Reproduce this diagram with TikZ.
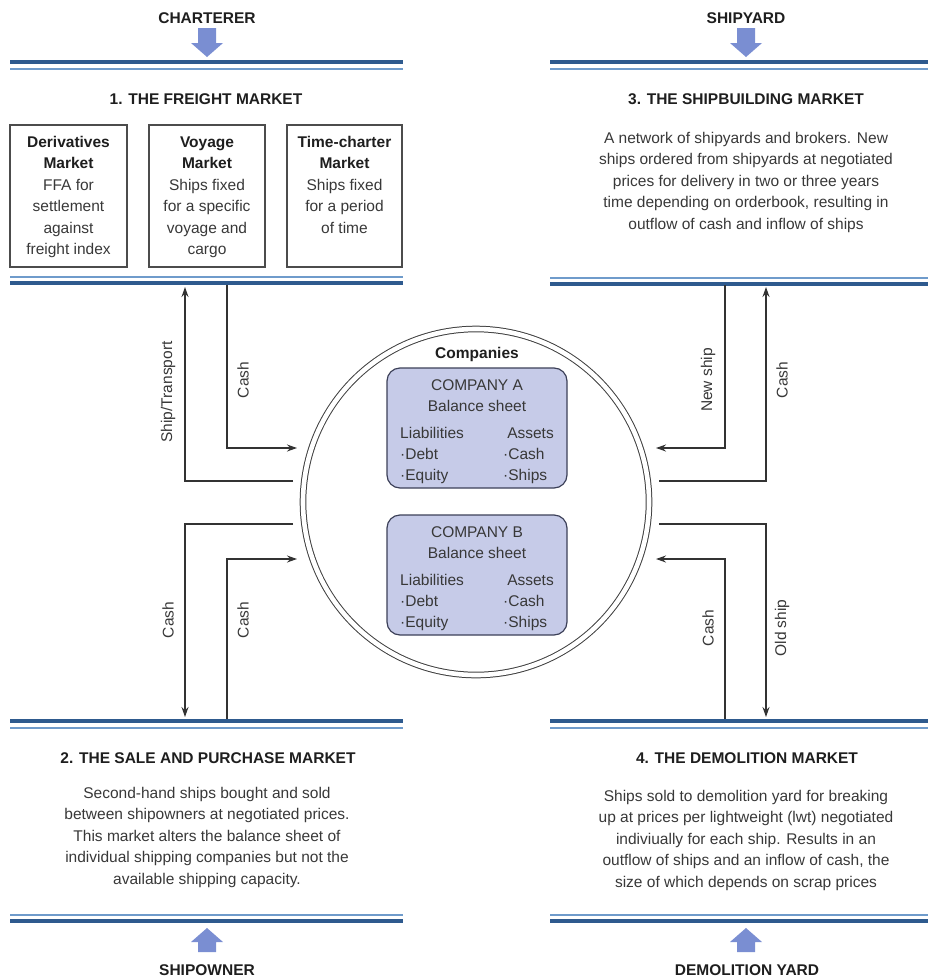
\documentclass[tikz,border=0pt]{standalone}
\usepackage{fontspec}
\setmainfont{Liberation Sans}
\usetikzlibrary{arrows.meta}
\definecolor{bdark}{HTML}{2E5A8E}
\definecolor{blight}{HTML}{6F9BCB}
\definecolor{arrowblue}{HTML}{7A8ED2}
\definecolor{cofill}{HTML}{C6CBE8}
\definecolor{coedge}{HTML}{3C4058}
\definecolor{txt}{HTML}{383838}
\definecolor{ttlc}{HTML}{1E1E1E}
\begin{document}
\begin{tikzpicture}[x=1pt,y=-1pt,
  body/.style={font=\fontsize{15.5}{21.5}\selectfont, text=txt, align=center, inner sep=0pt, anchor=north},
  ttl/.style={font=\fontsize{15.5}{18}\selectfont\bfseries, text=ttlc, inner sep=0pt, anchor=base},
  lbl/.style={font=\fontsize{15.5}{18}\selectfont, text=txt, inner sep=0pt, rotate=90},
  cot/.style={font=\fontsize{15.5}{18}\selectfont, text=txt, inner sep=0pt, anchor=base},
  dkline/.style={draw=bdark, line width=4pt},
  ltline/.style={draw=blight, line width=2pt},
  fbox/.style={draw=black!70, line width=1.2pt, rectangle, inner sep=0pt, minimum height=142pt},
  cobox/.style={draw=coedge, fill=cofill, line width=1.2pt, rounded corners=13pt, rectangle, inner sep=0pt, minimum width=180pt, minimum height=120pt},
  flow/.style={draw=black!80, line width=1.3pt, -{Stealth[length=10pt,width=7pt]}},
  barrow/.style={fill=arrowblue}
]
\useasboundingbox (0,0) rectangle (928,977);

% ---------- panel rules ----------
\draw[dkline] (10,62) -- (403,62);   \draw[ltline] (10,68.5) -- (403,68.5);
\draw[ltline] (10,277) -- (403,277); \draw[dkline] (10,283) -- (403,283);
\draw[dkline] (550,62) -- (928,62);   \draw[ltline] (550,68.5) -- (928,68.5);
\draw[ltline] (550,277.5) -- (928,277.5); \draw[dkline] (550,283.5) -- (928,283.5);
\draw[dkline] (10,721) -- (403,721);   \draw[ltline] (10,727.5) -- (403,727.5);
\draw[ltline] (10,914.5) -- (403,914.5); \draw[dkline] (10,921) -- (403,921);
\draw[dkline] (550,721) -- (928,721);   \draw[ltline] (550,727.5) -- (928,727.5);
\draw[ltline] (550,914.5) -- (928,914.5); \draw[dkline] (550,921) -- (928,921);

% ---------- block arrows ----------
\fill[barrow,shift={(207,0)}] (-9,28) -- (9,28) -- (9,43) -- (16,43) -- (0,57) -- (-16,43) -- (-9,43) -- cycle;
\fill[barrow,shift={(746,0)}] (-9,28) -- (9,28) -- (9,43) -- (16,43) -- (0,57) -- (-16,43) -- (-9,43) -- cycle;
\fill[barrow,shift={(207,0)}] (-9,952) -- (9,952) -- (9,942) -- (16,942) -- (0,928) -- (-16,942) -- (-9,942) -- cycle;
\fill[barrow,shift={(746,0)}] (-9,952) -- (9,952) -- (9,942) -- (16,942) -- (0,928) -- (-16,942) -- (-9,942) -- cycle;

% ---------- outer labels ----------
\node[ttl] (charterer) at (207,23.5) {CHARTERER};
\node[ttl] (shipyard) at (746,23.5) {SHIPYARD};
\node[ttl] (shipowner) at (207,975.5) {SHIPOWNER};
\node[ttl] (demyard) at (747,975.5) {DEMOLITION YARD};

% ---------- titles ----------
\node[ttl] (t1) at (206,104) {1. THE FREIGHT MARKET};
\node[ttl] (t3) at (746,104.5) {3. THE SHIPBUILDING MARKET};
\node[ttl] (t2) at (208,763.5) {2. THE SALE AND PURCHASE MARKET};
\node[ttl] (t4) at (747,763.5) {4. THE DEMOLITION MARKET};

% ---------- freight market boxes ----------
\node[fbox, minimum width=117pt] (fb1) at (68.5,196) {};
\node[fbox, minimum width=116pt] (fb2) at (207,196) {};
\node[fbox, minimum width=115pt] (fb3) at (344.5,196) {};
\node[body] (fb1t) at (68.5,132) {\strut\textbf{\color{ttlc}Derivatives}\\\textbf{\color{ttlc}Market}\\FFA for\\settlement\\against\\freight index};
\node[body] (fb2t) at (207,132) {\strut\textbf{\color{ttlc}Voyage}\\\textbf{\color{ttlc}Market}\\Ships fixed\\for a specific\\voyage and\\cargo};
\node[body] (fb3t) at (344.5,132) {\strut\textbf{\color{ttlc}Time-charter}\\\textbf{\color{ttlc}Market}\\Ships fixed\\for a period\\of time};

% ---------- panel texts ----------
\node[body] (sbt) at (746,128) {\strut A network of shipyards and brokers. New\\ships ordered from shipyards at negotiated\\prices for delivery in two or three years\\time depending on orderbook, resulting in\\outflow of cash and inflow of ships};
\node[body] (spt) at (207,783) {\strut Second-hand ships bought and sold\\between shipowners at negotiated prices.\\This market alters the balance sheet of\\individual shipping companies but not the\\available shipping capacity.};
\node[body] (dmt) at (746,786) {\strut Ships sold to demolition yard for breaking\\up at prices per lightweight (lwt) negotiated\\indiviually for each ship. Results in an\\outflow of ships and an inflow of cash, the\\size of which depends on scrap prices};

% ---------- companies ----------
\node[draw=black!75, double, double distance=4.6pt, line width=1pt, circle, minimum size=346pt, inner sep=0pt] (comp) at (476,502) {};
\node[ttl] (comptitle) at (477,358.5) {Companies};

\node[cobox] (coA) at (477,428) {};
\node[cot] (coA1) at (477,390.5) {COMPANY A};
\node[cot] (coA2) at (477,411) {Balance sheet};
\node[cot, anchor=base west] (coA3) at (400,438) {Liabilities};
\node[cot, anchor=base west] (coA4) at (400,459) {·Debt};
\node[cot, anchor=base west] (coA5) at (400,480) {·Equity};
\node[cot, anchor=base east] (coA6) at (554,438) {Assets};
\node[cot, anchor=base west] (coA7) at (503,459) {·Cash};
\node[cot, anchor=base west] (coA8) at (503,480) {·Ships};

\node[cobox] (coB) at (477,575) {};
\node[cot] (coB1) at (477,537.5) {COMPANY B};
\node[cot] (coB2) at (477,558) {Balance sheet};
\node[cot, anchor=base west] (coB3) at (400,585) {Liabilities};
\node[cot, anchor=base west] (coB4) at (400,606) {·Debt};
\node[cot, anchor=base west] (coB5) at (400,627) {·Equity};
\node[cot, anchor=base east] (coB6) at (554,585) {Assets};
\node[cot, anchor=base west] (coB7) at (503,606) {·Cash};
\node[cot, anchor=base west] (coB8) at (503,627) {·Ships};

% ---------- connectors ----------
\coordinate (stS) at (293,481); \coordinate (stE) at (185,287);
\draw[flow] (stS) -| (stE);
\coordinate (c1S) at (227,285); \coordinate (c1E) at (297,448);
\draw[flow] (c1S) |- (c1E);
\coordinate (nsS) at (725,285); \coordinate (nsE) at (656,448);
\draw[flow] (nsS) |- (nsE);
\coordinate (c2S) at (659,481); \coordinate (c2E) at (766,287);
\draw[flow] (c2S) -| (c2E);
\coordinate (c3S) at (293,524); \coordinate (c3E) at (185,717);
\draw[flow] (c3S) -| (c3E);
\coordinate (c4S) at (227,719); \coordinate (c4E) at (297,559);
\draw[flow] (c4S) |- (c4E);
\coordinate (osS) at (659,524); \coordinate (osE) at (766,717);
\draw[flow] (osS) -| (osE);
\coordinate (c5S) at (725,719); \coordinate (c5E) at (656,559);
\draw[flow] (c5S) |- (c5E);

% ---------- connector labels ----------
\node[lbl] (lst) at (168,392) {Ship/Transport};
\node[lbl] (lc1) at (243,380) {Cash};
\node[lbl] (lns) at (708,380) {New ship};
\node[lbl] (lc2) at (782,380) {Cash};
\node[lbl] (lc3) at (168,620) {Cash};
\node[lbl] (lc4) at (243,620) {Cash};
\node[lbl] (lc5) at (708,628) {Cash};
\node[lbl] (los) at (782,628) {Old ship};
\end{tikzpicture}
\end{document}
